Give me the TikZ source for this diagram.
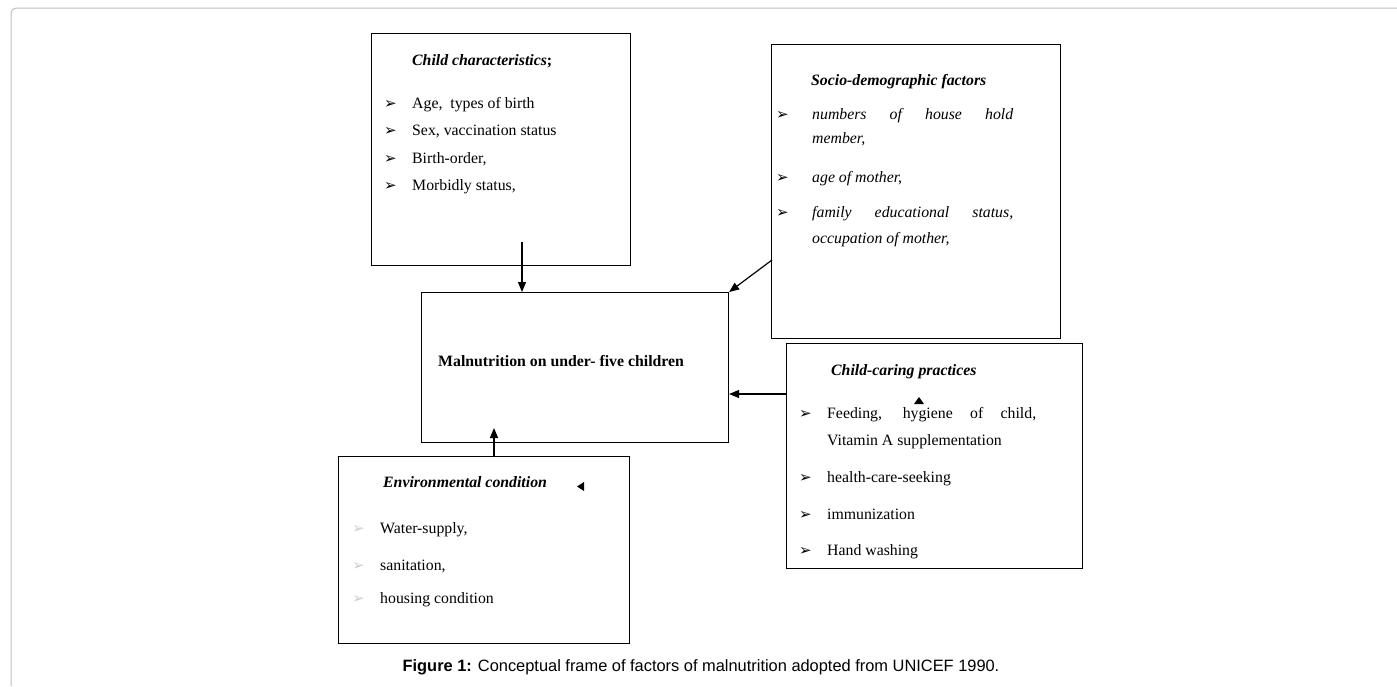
\documentclass[tikz,border=0pt]{standalone}
\usepackage{fontspec}
\setmainfont{Liberation Serif}
\newfontfamily\capfont{Liberation Sans}
\newfontfamily\bulfont{DejaVu Sans}
\usepackage{xcolor}
\usetikzlibrary{arrows.meta}

\newcommand\bul{{\bulfont\fontsize{15}{15}\selectfont ➢}}
\newcommand\hdg[1]{\textbf{\textit{#1}}}

\tikzset{
  box/.style={draw, line width=1.1pt, inner sep=0pt, anchor=north west},
  txt/.style={anchor=base west, inner sep=0pt, font=\fontsize{15.8}{18}\selectfont},
  link/.style={line width=1.2pt, -{Triangle[length=10pt,width=8pt]}},
}

\begin{document}
\begin{tikzpicture}[x=1pt,y=-1pt]
  \useasboundingbox (0,0) rectangle (1397,686);
  \draw[black!25, line width=1pt, rounded corners=6pt] (11,686) -- (11,8) -- (1397,8);

  \node (cc) [box, minimum width=259pt, minimum height=232pt] at (371,33) {};
  \node (sd) [box, minimum width=289pt, minimum height=294pt] at (771,44) {};
  \node (mn) [box, minimum width=307pt, minimum height=150pt] at (421,292) {};
  \node (cp) [box, minimum width=296pt, minimum height=225pt] at (786,343) {};
  \node (ec) [box, minimum width=291pt, minimum height=187pt] at (338,456) {};

  \path (412,65) node (cch) [txt] {\hdg{Child characteristics}\textbf{;}}
    (384,108) node [txt] {\bul} (412,108) node (cc1) [txt] {Age, \ types of birth}
    (384,135) node [txt] {\bul} (412,135) node (cc2) [txt] {Sex, vaccination status}
    (384,163) node [txt] {\bul} (412,163) node (cc3) [txt] {Birth-order,}
    (384,190) node [txt] {\bul} (412,190) node (cc4) [txt] {Morbidly status,};

  \path (811,85) node (sdh) [txt] {\hdg{Socio-demographic factors}}
    (776,119) node [txt] {\bul} (812,119) node (sd1) [txt] {\itshape\makebox[201pt][s]{numbers of house hold}}
    (812,143) node (sd2) [txt] {\itshape member,}
    (776,182) node [txt] {\bul} (812,182) node (sd3) [txt] {\itshape age of mother,}
    (776,217) node [txt] {\bul} (812,217) node (sd4) [txt] {\itshape\makebox[201pt][s]{family educational status,}}
    (812,243) node (sd5) [txt] {\itshape occupation of mother,};

  \path (438,366) node (mnt) [txt] {\textbf{Malnutrition on under- five children}};

  \path (831,375) node (cph) [txt] {\hdg{Child-caring practices}}
    (799,418) node [txt] {\bul} (827,418) node (cp1) [txt] {\makebox[209pt][s]{Feeding, hygiene of child,}}
    (827,445) node (cp2) [txt] {Vitamin A supplementation}
    (799,482) node [txt] {\bul} (827,482) node (cp3) [txt] {health-care-seeking}
    (799,519) node [txt] {\bul} (827,519) node (cp4) [txt] {immunization}
    (799,555) node [txt] {\bul} (827,555) node (cp5) [txt] {Hand washing};

  \path (383,487) node (ech) [txt] {\hdg{Environmental condition}}
    (352,533) node [txt, text=black!20] {\bul} (380,533) node (ec1) [txt] {Water-supply,}
    (352,570) node [txt, text=black!20] {\bul} (380,570) node (ec2) [txt] {sanitation,}
    (352,603) node [txt, text=black!20] {\bul} (380,603) node (ec3) [txt] {housing condition};

  \fill (577,486.5) -- (584,482) -- (584,491) -- cycle;
  \fill (919,397) -- (914,404) -- (924,404) -- cycle;

  \coordinate (cco) at (522,242);
  \draw[link] (cco) -- (cco |- mn.north);
  \coordinate (sdo) at (772,260);
  \draw[link] (sdo) -- (mn.north east);
  \coordinate (cpo) at (786,394);
  \draw[link] (cpo) -- (cpo -| mn.east);
  \coordinate (eci) at (494,428);
  \draw[link] (eci |- ec.north) -- (eci);

  \node (cap) [anchor=base, font=\capfont\fontsize{16.4}{19}\selectfont] at (701,671)
    {\textbf{Figure 1:} Conceptual frame of factors of malnutrition adopted from UNICEF 1990.};
\end{tikzpicture}
\end{document}
